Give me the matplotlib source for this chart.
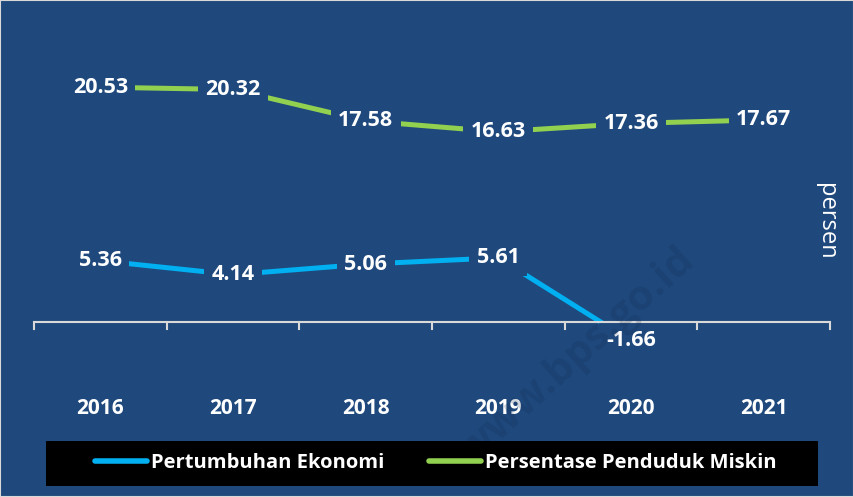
import matplotlib.pyplot as plt
from matplotlib.patches import Rectangle

years = ["2016", "2017", "2018", "2019", "2020", "2021"]
pertumbuhan = [5.36, 4.14, 5.06, 5.61, -1.66]
miskin = [20.53, 20.32, 17.58, 16.63, 17.36, 17.67]

bg = "#1F497D"
blue = "#00B0F0"
green = "#92D050"
font = ["Open Sans", "DejaVu Sans"]

fig = plt.figure(figsize=(8.54, 4.97), dpi=100, facecolor=bg)
ax = fig.add_axes([34 / 854, 1 - 380 / 497, 796 / 854, 360 / 497])
ax.set_facecolor(bg)

x_eko = list(range(len(pertumbuhan)))
x_mis = list(range(len(miskin)))
ax.plot(x_eko, pertumbuhan, color=blue, lw=3.6, zorder=2, label="Pertumbuhan Ekonomi")
ax.plot(x_mis, miskin, color=green, lw=3.6, zorder=2, label="Persentase Penduduk Miskin")

# data labels with background boxes covering the lines
box = dict(boxstyle="square,pad=0.35", facecolor=bg, edgecolor="none")
for xi, v in zip(x_eko, pertumbuhan):
    ax.text(xi, v, f"{v:.2f}", ha="center", va="center", color="white",
            fontsize=15.5, fontweight="bold", family=font, bbox=box, zorder=3)
for xi, v in zip(x_mis, miskin):
    ax.text(xi, v, f"{v:.2f}", ha="center", va="center", color="white",
            fontsize=15.5, fontweight="bold", family=font, bbox=box, zorder=3)

ax.set_xlim(-0.5, len(years) - 0.5)
ax.set_ylim(-5.07, 26.4)
ax.axhline(0, color="#D9D9D9", lw=1.5, zorder=5)
for s in ax.spines.values():
    s.set_visible(False)
ax.set_yticks([])
ax.set_xticks(x_mis)
ax.set_xticklabels(years, color="white", fontsize=15, fontweight="bold", family=font)
ax.tick_params(axis="x", which="major", length=0, pad=13)
for t in [i - 0.5 for i in range(len(years) + 1)]:
    ax.plot([t, t], [0, -0.6], color="#D9D9D9", lw=1.5, zorder=5, clip_on=False)

fig.text(826 / 854, 1 - 221 / 497, "persen", rotation=270, ha="center", va="center",
         color="white", fontsize=17, family=font)

# watermark
fig.text(690 / 854, 1 - 255 / 497, "www.bps.go.id", rotation=42,
         rotation_mode="anchor", ha="right", va="center", color="#0E2A4E",
         alpha=0.2, fontsize=30, fontweight="bold", family=font, zorder=0)

# legend
fig.patches.append(Rectangle((46 / 854, 1 - 486 / 497), 772 / 854, 45 / 497,
                             transform=fig.transFigure, facecolor="black",
                             edgecolor="none", zorder=1))
leg = fig.legend(loc="center", bbox_to_anchor=(436 / 854, 1 - 463.5 / 497), ncol=2,
                 frameon=False, handlelength=2.6, handletextpad=0.2, columnspacing=2.2,
                 prop={"family": font, "weight": "bold", "size": 14.5})
for txt in leg.get_texts():
    txt.set_color("white")
for ln in leg.get_lines():
    ln.set_linewidth(4)
    ln.set_solid_capstyle("round")
leg.set_zorder(2)

fig.patches.append(Rectangle((0, 0), 1, 1, transform=fig.transFigure, fill=False,
                             edgecolor="#D9D9D9", lw=1.5, zorder=10))

fig.savefig("out.png", dpi=100, facecolor=bg)
